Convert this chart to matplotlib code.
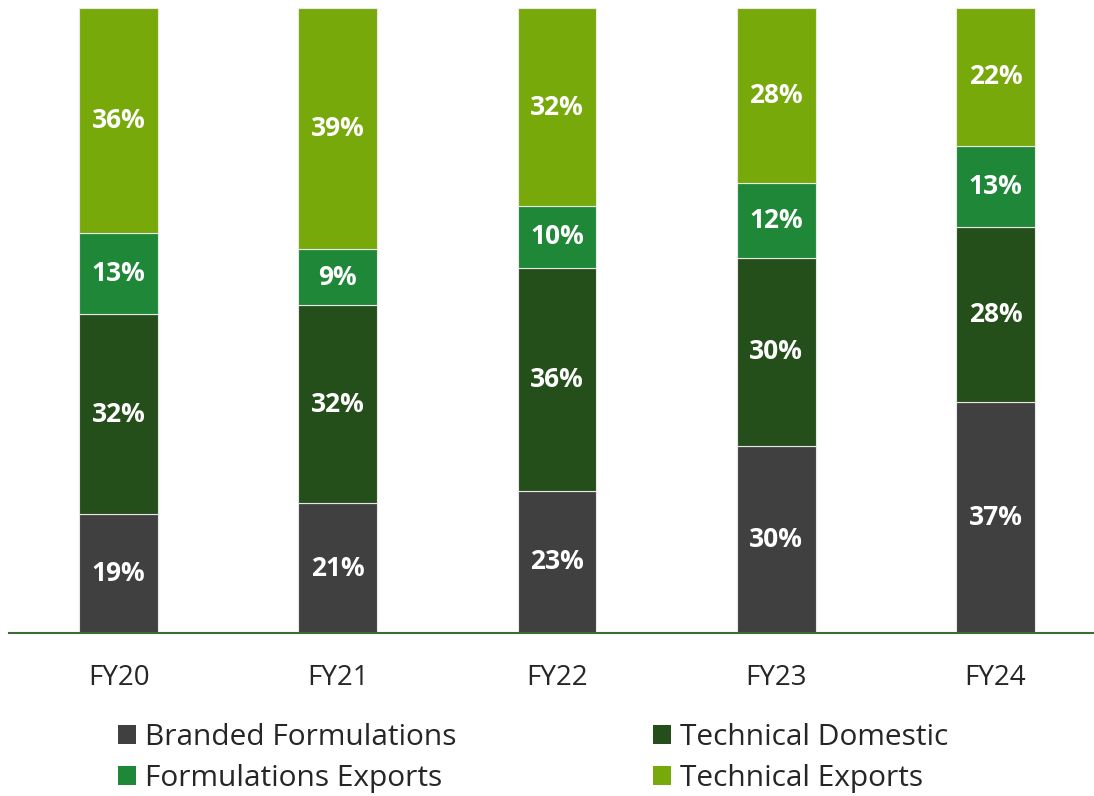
import numpy as np
import matplotlib.pyplot as plt

plt.rcParams['font.family'] = ['Open Sans', 'DejaVu Sans']

# Datos (porcentajes mostrados en la gráfica)
years = ["FY20", "FY21", "FY22", "FY23", "FY24"]
branded_formulations = [19, 21, 23, 30, 37]
technical_domestic = [32, 32, 36, 30, 28]
formulations_exports = [13, 9, 10, 12, 13]
technical_exports = [36, 39, 32, 28, 22]

series = [
    ("Branded Formulations", branded_formulations, "#404040"),
    ("Technical Domestic", technical_domestic, "#244F1A"),
    ("Formulations Exports", formulations_exports, "#1F8838"),
    ("Technical Exports", technical_exports, "#77A90A"),
]

# 100% apilado
totals = np.sum([s[1] for s in series], axis=0)
x = np.arange(len(years))

fig = plt.figure(figsize=(10.94, 7.96), dpi=100)
ax = fig.add_axes([9 / 1094, 163 / 796, 1085 / 1094, 625 / 796])

bottom = np.zeros(len(years))
handles = {}
for name, vals, color in series:
    h = np.array(vals) / totals * 100
    bars = ax.bar(x, h, width=0.36, bottom=bottom, color=color,
                  edgecolor="#e8e8e8", linewidth=0.8, label=name)
    handles[name] = bars
    for xi, b, hi, v in zip(x, bottom, h, vals):
        ax.text(xi, b + hi / 2, f"{v}%", ha="center", va="center",
                color="white", fontsize=19, fontweight="bold")
    bottom += h

ax.set_xlim(-0.5, 4.5 - 11 / 219)
ax.set_ylim(0, 100)
ax.set_xticks(x)
ax.set_xticklabels(years, fontsize=20, color="#262626")
ax.tick_params(axis="x", length=0, pad=22)
ax.set_yticks([])
for s in ["top", "left", "right"]:
    ax.spines[s].set_visible(False)
ax.spines["bottom"].set_color("#3D6B35")
ax.spines["bottom"].set_linewidth(1.5)

order = ["Branded Formulations", "Formulations Exports",
         "Technical Domestic", "Technical Exports"]
leg = fig.legend([handles[n] for n in order], order, ncol=2,
                 loc="upper left", bbox_to_anchor=(103 / 1094, 1 - 708 / 796),
                 frameon=False, fontsize=21.5, handlelength=0.6, handleheight=0.6,
                 handletextpad=0.3, columnspacing=6.6, labelspacing=0.42,
                 borderpad=0, labelcolor="#262626")
for p in leg.get_patches():
    p.set_edgecolor("none")

fig.savefig("out.png", dpi=100)
